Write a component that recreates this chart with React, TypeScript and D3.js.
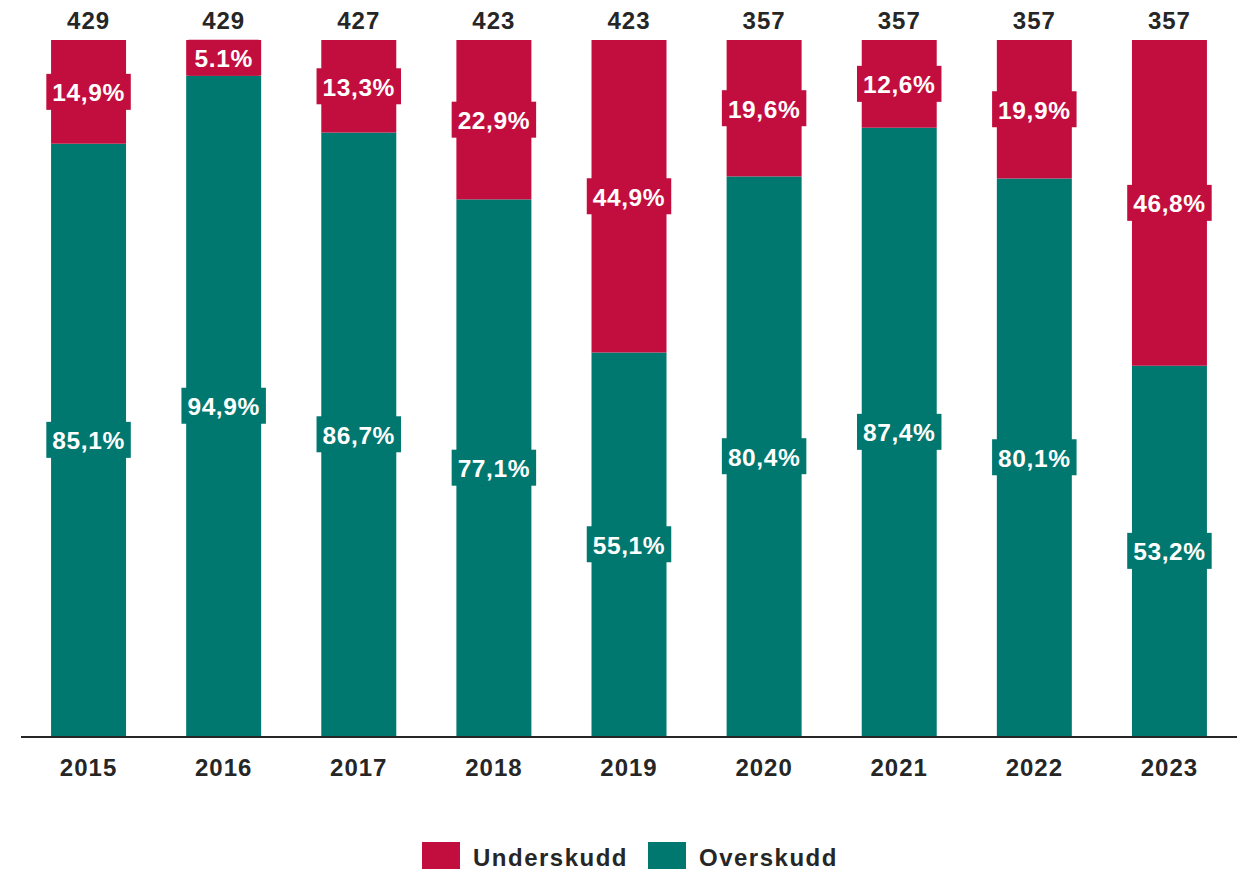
import React, { useEffect, useRef } from 'react';
import * as d3 from 'd3';

const years = ['2015', '2016', '2017', '2018', '2019', '2020', '2021', '2022', '2023'];
const totals = [429, 429, 427, 423, 423, 357, 357, 357, 357];
const underskudd = [14.9, 5.1, 13.3, 22.9, 44.9, 19.6, 12.6, 19.9, 46.8];
const overskudd = [85.1, 94.9, 86.7, 77.1, 55.1, 80.4, 87.4, 80.1, 53.2];
const underLabels = ['14,9%', '5.1%', '13,3%', '22,9%', '44,9%', '19,6%', '12,6%', '19,9%', '46,8%'];
const overLabels = ['85,1%', '94,9%', '86,7%', '77,1%', '55,1%', '80,4%', '87,4%', '80,1%', '53,2%'];

const RED = '#c20e3e';
const GREEN = '#00776f';
const DARK = '#262626';
const FONT = '"Liberation Sans", Arial, sans-serif';

const W = 1245;
const H = 871;

const App = () => {
  const ref = useRef<SVGSVGElement | null>(null);

  useEffect(() => {
    const el = ref.current;
    if (!el) return;
    const svg = d3.select(el);
    svg.selectAll('*').remove();

    const x = d3.scaleBand().domain(years).range([21, 1237]).paddingInner(0.445).paddingOuter(0.2225);
    const y = d3.scaleLinear().domain([0, 100]).range([736, 40]);

    const rows = years.map((yr, i) => ({
      year: yr,
      total: totals[i],
      segs: [
        { key: 'over', y0: 0, y1: overskudd[i], label: overLabels[i], color: GREEN },
        { key: 'under', y0: overskudd[i], y1: overskudd[i] + underskudd[i], label: underLabels[i], color: RED },
      ],
    }));

    const g = svg.append('g');

    rows.forEach((r) => {
      const bx = x(r.year)!;
      r.segs.forEach((s) => {
        g.append('rect')
          .attr('x', bx)
          .attr('width', x.bandwidth())
          .attr('y', y(Math.min(s.y1, 100)))
          .attr('height', y(s.y0) - y(Math.min(s.y1, 100)))
          .attr('fill', s.color);
      });
    });

    // percentage labels with a box in the bar colour
    rows.forEach((r) => {
      const cx = x(r.year)! + x.bandwidth() / 2;
      r.segs.forEach((s) => {
        const cy = (y(s.y0) + y(Math.min(s.y1, 100))) / 2;
        const lg = g.append('g');
        const box = lg.append('rect').attr('fill', s.color);
        const t = lg
          .append('text')
          .attr('x', cx)
          .attr('y', cy + 9.5)
          .attr('text-anchor', 'middle')
          .style('font-family', FONT)
          .style('font-weight', 'bold')
          .style('font-size', '24.5px')
          .style('letter-spacing', '0.6px')
          .attr('fill', '#fff')
          .text(s.label);
        const w = (t.node() as SVGTextElement).getComputedTextLength();
        box
          .attr('x', cx - w / 2 - 6)
          .attr('width', w + 12)
          .attr('y', cy - 18)
          .attr('height', 36);
      });
    });

    // totals on top
    g.selectAll('text.total')
      .data(rows)
      .enter()
      .append('text')
      .attr('class', 'total')
      .attr('x', (d) => x(d.year)! + x.bandwidth() / 2)
      .attr('y', 29)
      .attr('text-anchor', 'middle')
      .style('font-family', FONT)
      .style('font-weight', 'bold')
      .style('font-size', '24px')
      .style('letter-spacing', '1px')
      .attr('fill', DARK)
      .text((d) => d.total);

    // axis line
    g.append('line')
      .attr('x1', 21)
      .attr('x2', 1237)
      .attr('y1', y(0) + 1)
      .attr('y2', y(0) + 1)
      .attr('stroke', DARK)
      .attr('stroke-width', 2);

    g.selectAll('text.year')
      .data(years)
      .enter()
      .append('text')
      .attr('class', 'year')
      .attr('x', (d) => x(d)! + x.bandwidth() / 2)
      .attr('y', 776)
      .attr('text-anchor', 'middle')
      .style('font-family', FONT)
      .style('font-weight', 'bold')
      .style('font-size', '24px')
      .style('letter-spacing', '1px')
      .attr('fill', DARK)
      .text((d) => d);

    // legend
    const legend = [
      { name: 'Underskudd', color: RED, x: 422 },
      { name: 'Overskudd', color: GREEN, x: 648 },
    ];
    legend.forEach((l) => {
      g.append('rect').attr('x', l.x).attr('y', 842).attr('width', 38).attr('height', 27).attr('fill', l.color);
      g.append('text')
        .attr('x', l.x + 51)
        .attr('y', 866)
        .style('font-family', FONT)
        .style('font-weight', 'bold')
        .style('font-size', '24px')
        .style('letter-spacing', '1.5px')
        .attr('fill', DARK)
        .text(l.name);
    });
  }, []);

  return (
    <svg
      ref={ref}
      width={W}
      height={H}
      style={{ position: 'absolute', left: 0, top: 0, background: '#fff' }}
    />
  );
};

export default App;
